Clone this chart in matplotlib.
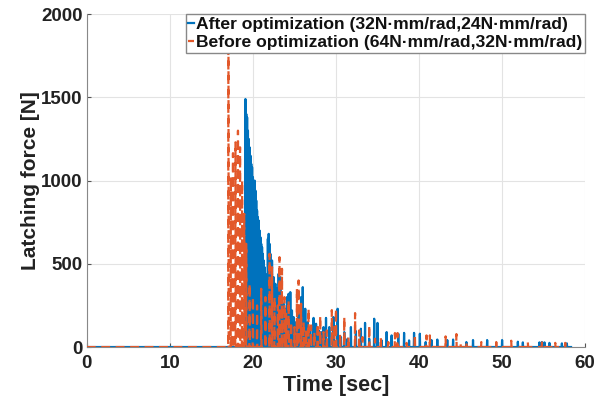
import numpy as np
import matplotlib.pyplot as plt

# spike times [sec] and peak latching force [N]
after_t = [19.1, 19.2, 19.3, 19.4, 19.5, 19.6, 19.7, 19.8, 19.9, 20.0, 20.1, 20.2, 20.3,
           20.4, 20.5, 20.6, 20.7, 20.8, 20.9, 21.0, 21.1, 21.2, 21.3, 21.4, 21.5, 21.6,
           21.8, 21.9, 22.0, 22.1, 22.3, 22.5, 22.7, 22.9, 23.1, 23.3, 23.5, 23.7, 23.9,
           24.1, 24.3, 24.5, 24.7, 24.9, 25.2, 25.5, 25.8, 26.0, 26.3, 26.6, 26.9, 27.3,
           27.6, 27.9, 28.2, 28.5, 28.8, 29.2, 29.7, 30.2, 30.6, 31.0, 31.4, 31.8, 32.4,
           33.0, 33.5, 34.0, 34.6, 35.0, 35.5, 36.1, 36.7, 37.5, 38.2, 38.8, 39.4, 40.1,
           40.8, 41.5, 42.2, 43.4, 44.1, 45.7, 46.5, 48.2, 50.0, 51.9, 52.5, 54.5, 54.8,
           55.1, 55.7, 57.2, 57.8]
after_f = [1490, 1400, 1380, 1300, 1250, 1200, 1150, 1100, 1080, 1020, 980, 1000, 940,
           880, 820, 780, 760, 700, 660, 620, 600, 560, 520, 480, 440, 400,
           650, 680, 620, 560, 520, 420, 380, 350, 440, 420, 300, 260, 230,
           300, 320, 330, 220, 180, 150, 200, 300, 360, 230, 150, 120, 175,
           140, 100, 90, 120, 175, 120, 180, 230, 60, 90, 50, 120, 96,
           110, 145, 50, 170, 145, 40, 90, 70, 80, 85, 40, 85, 80,
           30, 42, 45, 42, 45, 30, 42, 42, 42, 32, 28, 28, 30,
           28, 25, 22, 22]

before_t = [17.05, 17.35, 17.6, 17.9, 18.2, 18.45, 18.7, 18.95,
            19.2, 19.6, 20.0, 20.5, 21.0, 21.5, 22.0, 22.3, 22.6, 23.0,
            23.2, 23.5, 23.8, 24.0, 24.3, 24.6, 25.0, 25.3, 25.5, 25.8, 26.1, 26.4, 26.7,
            27.0, 27.4, 27.8, 28.1, 28.5, 28.9, 29.5, 29.8, 30.0, 30.5, 31.0, 31.5, 32.3,
            32.8, 33.2, 34.0, 34.7, 35.4, 36.3, 37.1, 37.4, 38.5, 39.5, 40.9, 41.3, 42.5,
            43.2, 44.5, 45.0, 45.7, 47.5, 49.3, 51.1, 53.1, 54.8, 56.4, 57.6]
before_f = [2300, 1020, 1165, 1230, 1300, 1200, 1000, 800,
            620, 380, 300, 250, 350, 300, 560, 480, 300, 250,
            540, 470, 300, 200, 280, 150, 120, 350, 400, 260, 150, 100, 230,
            130, 90, 140, 186, 90, 100, 222, 130, 229, 80, 180, 60, 204,
            100, 60, 132, 50, 58, 30, 84, 84, 25, 76, 70, 70, 20,
            64, 78, 25, 30, 30, 30, 38, 30, 28, 25, 25]


def pulses(t, f, w=0.03):
    xs, ys = [0.0], [0.0]
    for ti, fi in zip(t, f):
        xs += [ti - w, ti, ti + w]
        ys += [0.0, fi, 0.0]
    xs.append(58.3)
    ys.append(0.0)
    return np.array(xs), np.array(ys)


plt.rcParams['font.family'] = ['Liberation Sans', 'DejaVu Sans']
plt.rcParams['font.weight'] = 'bold'

fig = plt.figure(figsize=(6.07, 4.04), dpi=100)
ax = fig.add_axes([0.143, 0.141, 0.821, 0.824])

xa, ya = pulses(after_t, after_f)
xb, yb = pulses(before_t, before_f)
ax.plot(xa, ya, color='#0072BD', lw=1.6, zorder=2,
        label='After optimization (32N\u00b7mm/rad,24N\u00b7mm/rad)')
ax.plot(xb, yb, color='#E2582A', lw=1.6, dashes=(4, 2.5), zorder=3,
        label='Before optimization (64N\u00b7mm/rad,32N\u00b7mm/rad)')

ax.set_xlim(0, 60)
ax.set_ylim(0, 2000)
ax.set_xticks(range(0, 61, 10))
ax.set_yticks(range(0, 2001, 500))
ax.grid(True, color='#e3e3e3', lw=0.8)
ax.set_axisbelow(True)
ax.tick_params(direction='in', length=3, labelsize=13.5, color='#555555', pad=3)
ax.tick_params(axis='x', pad=6)
for lab in ax.get_xticklabels() + ax.get_yticklabels():
    lab.set_fontweight('bold')
    lab.set_color('#222222')
for s in ['top', 'right']:
    ax.spines[s].set_visible(False)
for s in ['left', 'bottom']:
    ax.spines[s].set_color('#888888')

ax.set_xlabel('Time [sec]', fontsize=15.5, fontweight='bold', labelpad=2, color='#222222')
ax.set_ylabel('Latching force [N]', fontsize=15, fontweight='bold', labelpad=1, color='#222222')

leg = ax.legend(loc='upper right', handlelength=0.3, handletextpad=0.15,
                borderpad=0.15, labelspacing=0.15, fancybox=False, framealpha=1,
                edgecolor='#888888', borderaxespad=0.0, prop={'weight': 'bold', 'size': 12.6})
leg.set_zorder(5)
for txt in leg.get_texts():
    txt.set_color('#111111')

fig.savefig('out.png', dpi=100)
